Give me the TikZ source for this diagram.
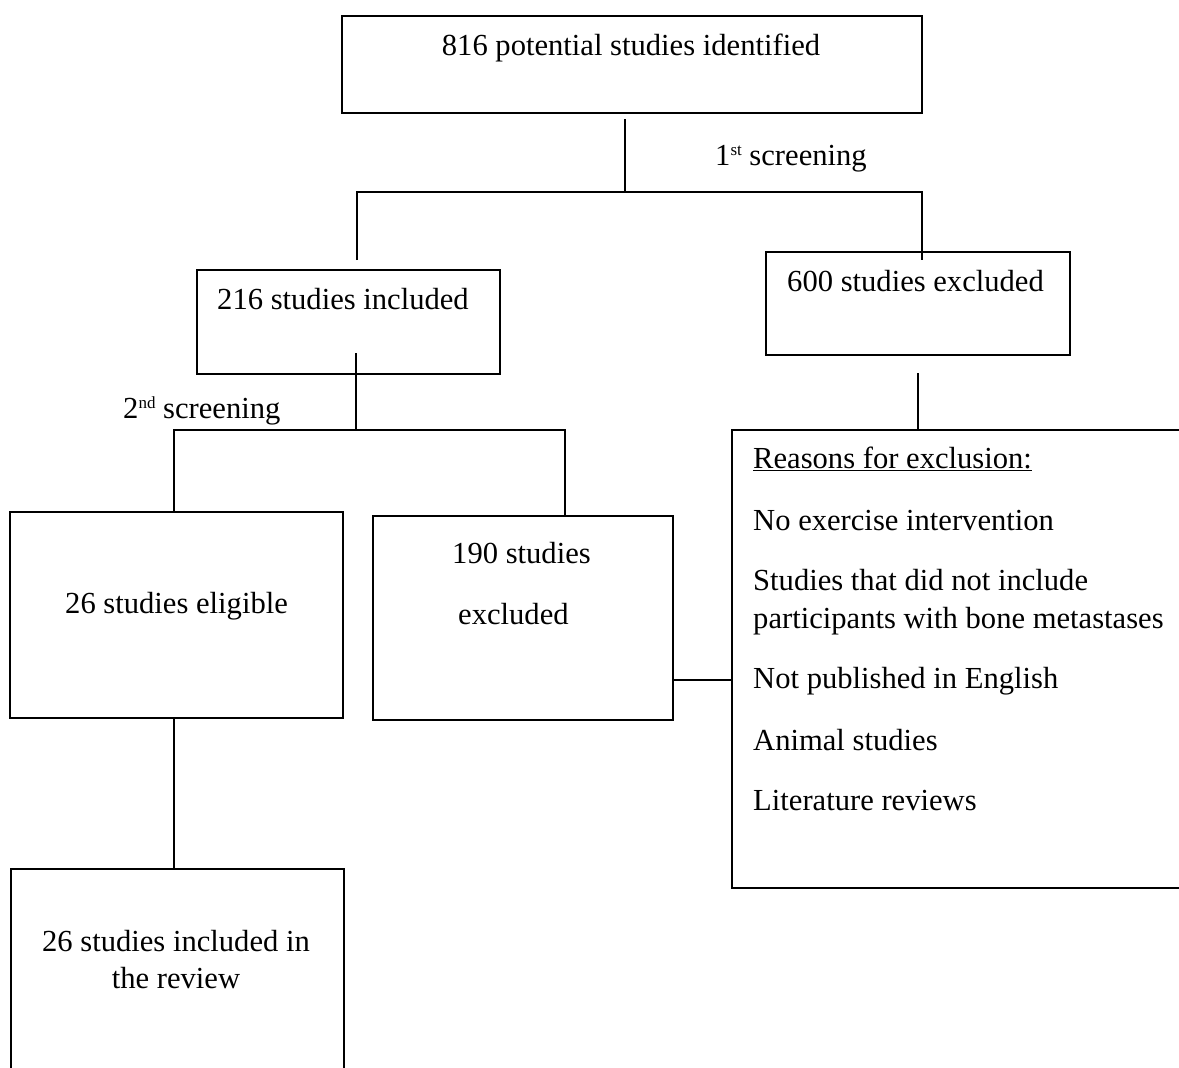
\documentclass[tikz,border=0pt]{standalone}
\usepackage{fontspec}
\setmainfont{Liberation Serif}
\begin{document}
\begin{tikzpicture}[x=1pt,y=-1pt,
  box/.style={draw,line width=1.6pt,anchor=north west,inner sep=0pt,outer sep=0pt},
  txt/.style={inner sep=0pt,font=\fontsize{30.6}{37}\selectfont},
  link/.style={draw,line width=1.6pt}]
\clip (0,0) rectangle (1179,1068);
\fill[white] (0,0) rectangle (1179,1068);
% boxes
\node (b1) [box,minimum width=580pt,minimum height=97pt] at (342,16) {};
\node (b216) [box,minimum width=303pt,minimum height=104pt] at (197,270) {};
\node (b600) [box,minimum width=304pt,minimum height=103pt] at (766,252) {};
\node (reasons) [box,minimum width=480pt,minimum height=458pt] at (732,430) {};
\node (b26e) [box,minimum width=333pt,minimum height=206pt] at (10,512) {};
\node (b190) [box,minimum width=300pt,minimum height=204pt] at (373,516) {};
\node (b26i) [box,minimum width=333pt,minimum height=240pt] at (11,869) {};
% junctions
\coordinate (j1) at (625,192);
\coordinate (jl) at (357,192);
\coordinate (jr) at (922,192);
\coordinate (j2) at (356,430);
\coordinate (j2l) at (174,430);
\coordinate (j2r) at (565,430);
\coordinate (j3) at (700,680);
% connectors
\draw[link] (j1 |- b1.south) ++(0,6) -- (j1);
\draw[link] (jl |- b216.north) ++(0,-10) -- (jl) -- (jr) -- (jr |- b600.north) -- ++(0,8);
\draw[link] (b600.south) ++(0,18) -- (b600.south |- reasons.north);
\draw[link] (j2 |- b216.south) ++(0,-21) -- (j2);
\draw[link] (j2l |- b26e.north) -- (j2l) -- (j2r) -- (j2r |- b190.north);
\draw[link] (b190.east |- j3) -- (reasons.west |- j3);
\draw[link] (j2l |- b26e.south) -- (j2l |- b26i.north);
% texts
\node (t1) [txt,anchor=base] at (631,55) {816 potential studies identified};
\node (s1) [txt,anchor=base west] at (715,165) {1\raisebox{10pt}{\fontsize{17}{17}\selectfont st} screening};
\node (t216) [txt,anchor=base west] at (217,309) {216 studies included};
\node (s2) [txt,anchor=base west] at (123,418) {2\raisebox{10pt}{\fontsize{17}{17}\selectfont nd} screening};
\node (t600) [txt,anchor=base west] at (787,291) {600 studies excluded};
\node (r0) [txt,anchor=base west] at (753,468) {\underline{Reasons for exclusion:}};
\node (r1) [txt,anchor=base west] at (753,530) {No exercise intervention};
\node (r2a) [txt,anchor=base west] at (753,590) {Studies that did not include};
\node (r2b) [txt,anchor=base west] at (753,628) {participants with bone metastases};
\node (r3) [txt,anchor=base west] at (753,688) {Not published in English};
\node (r4) [txt,anchor=base west] at (753,750) {Animal studies};
\node (r5) [txt,anchor=base west] at (753,810) {Literature reviews};
\node (t26e) [txt,anchor=base west] at (65,613) {26 studies eligible};
\node (t190a) [txt,anchor=base west] at (452,563) {190 studies};
\node (t190b) [txt,anchor=base west] at (458,624) {excluded};
\node (t26ia) [txt,anchor=base] at (176,951) {26 studies included in};
\node (t26ib) [txt,anchor=base] at (176,988) {the review};
\end{tikzpicture}
\end{document}
